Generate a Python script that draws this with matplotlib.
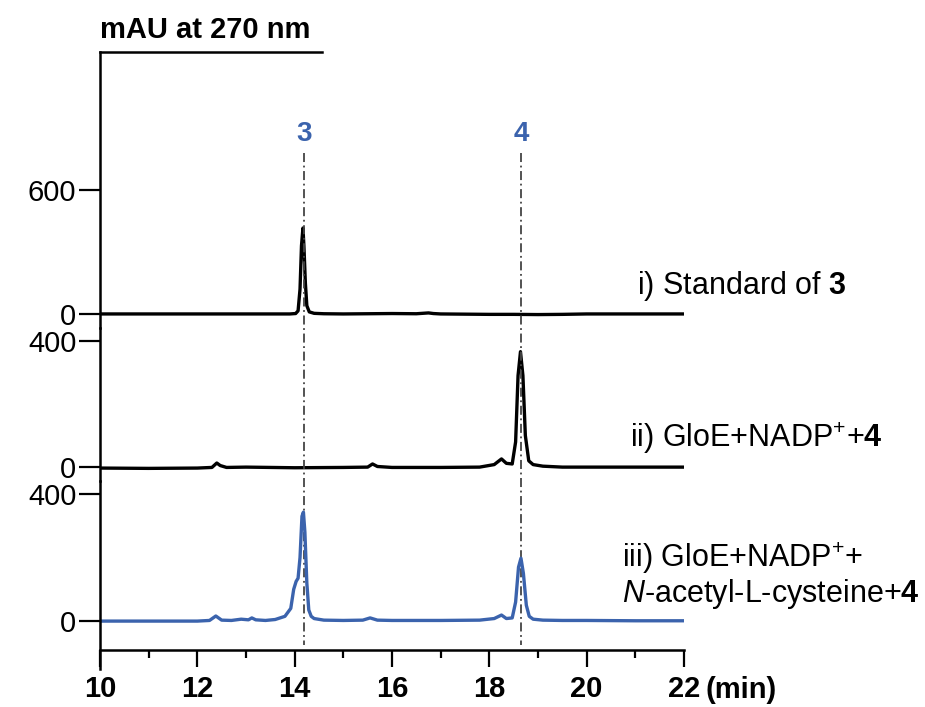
import matplotlib
matplotlib.use("Agg")
import matplotlib.pyplot as plt
from matplotlib.transforms import blended_transform_factory
from matplotlib.ticker import MultipleLocator

plt.rcParams['font.family'] = ['Liberation Sans', 'DejaVu Sans']
plt.rcParams['mathtext.fontset'] = 'custom'
plt.rcParams['mathtext.rm'] = 'Liberation Sans'
plt.rcParams['mathtext.bf'] = 'Liberation Sans:bold'
plt.rcParams['mathtext.it'] = 'Liberation Sans:italic'

# chromatogram traces (time in min, signal in mAU)
t_std = [10.0, 11.0, 12.0, 13.0, 13.9, 14.02, 14.07, 14.11, 14.14, 14.17, 14.19, 14.22,
         14.25, 14.3, 14.4, 14.6, 15.0, 15.5, 16.0, 16.5, 16.75, 16.85, 17.0, 17.5,
         18.0, 18.5, 19.0, 19.5, 20.0, 21.0, 22.0]
y_std = [0, 0, 0, 0, 0, 2, 15, 120, 330, 416, 330, 150,
         40, 10, 3, 1, 0, 1, 2, 1, 5, 2, 0, -1,
         -2, -2, -3, -2, 0, 0, 0]

t_gloe = [10, 11, 12, 12.3, 12.4, 12.47, 12.6, 13, 14, 15, 15.5, 15.6, 15.7, 16, 17,
          17.8, 18.1, 18.25, 18.35, 18.47, 18.54, 18.59, 18.64, 18.69, 18.74, 18.81,
          18.9, 19.1, 19.5, 20, 21, 22]
y_gloe = [-3, -4, -3, -1, 13, 5, -1, 0, -2, -1, 0, 10, 2, -1, -1,
          0, 8, 26, 12, 10, 80, 290, 366, 290, 100, 20,
          8, 3, 0, 0, 0, 0]

t_nac = [10, 11, 12, 12.25, 12.38, 12.5, 12.7, 12.9, 13.05, 13.12, 13.2, 13.4, 13.6,
         13.8, 13.92, 13.98, 14.03, 14.07, 14.11, 14.15, 14.18, 14.21, 14.25, 14.29,
         14.34, 14.4, 14.6, 15.0, 15.4, 15.55, 15.7, 16, 17, 17.8, 18.1, 18.25, 18.35,
         18.47, 18.54, 18.6, 18.65, 18.7, 18.76, 18.82, 18.9, 19.1, 19.5, 20, 21, 22]
y_nac = [0, 0, 0, 2, 16, 3, 2, 6, 4, 10, 4, 2, 5,
         15, 40, 100, 125, 135, 200, 330, 343, 280, 120, 35,
         15, 8, 3, 2, 3, 10, 3, 2, 2, 3, 8, 19, 8,
         10, 60, 170, 198, 150, 50, 15, 6, 3, 2, 2, 1, 1]

peak_times = [14.19, 18.65]
peak_names = ['3', '4']

BLUE = '#3b63ad'
fig = plt.figure(figsize=(9.25, 7.07), dpi=100)

W, H = 925, 707
def box(top, bottom):
    return [100 / W, 1 - bottom / H, 584 / W, (bottom - top) / H]

ax1 = fig.add_axes(box(52, 328))
ax2 = fig.add_axes(box(328, 481))
ax3 = fig.add_axes(box(481, 650))

panels = [(ax1, t_std, y_std, 'black', (-68, 1268), [0, 600]),
          (ax2, t_gloe, y_gloe, 'black', (-44, 441), [0, 400]),
          (ax3, t_nac, y_nac, BLUE, (-91, 441), [0, 400])]

for ax, t, y, c, lim, ticks in panels:
    ax.plot(t, y, color=c, lw=2.4, solid_joinstyle='round')
    ax.set_xlim(10, 22)
    ax.set_ylim(*lim)
    ax.set_yticks(ticks)
    ax.tick_params(axis='y', length=15, width=1.6, labelsize=21, pad=2)
    for s in ['top', 'right', 'bottom']:
        ax.spines[s].set_visible(False)
    ax.spines['left'].set_linewidth(1.8)
    ax.patch.set_alpha(0)

for ax in (ax1, ax2):
    ax.set_xticks([])

ax1.spines['top'].set_visible(True)
ax1.spines['top'].set_linewidth(1.8)
ax1.spines['top'].set_bounds(10, 14.56)

ax3.spines['bottom'].set_visible(True)
ax3.spines['bottom'].set_linewidth(1.8)
ax3.spines['left'].set_bounds(-151, 441)
ax3.xaxis.set_major_locator(MultipleLocator(2))
ax3.xaxis.set_minor_locator(MultipleLocator(1))
ax3.tick_params(axis='x', which='major', length=12, width=1.6, labelsize=21, pad=6)
ax3.tick_params(axis='x', which='minor', length=6, width=1.6)
for lab in ax3.get_xticklabels():
    lab.set_fontweight('bold')
ax3.text(22.45, -0.235, '(min)', transform=blended_transform_factory(ax3.transData, ax3.transAxes),
         fontsize=21, fontweight='bold', ha='left', va='center')

# dash-dot markers for compounds 3 and 4
tr = blended_transform_factory(ax3.transData, fig.transFigure)
for x, name in zip(peak_times, peak_names):
    ax3.plot([x, x], [1 - 153 / H, 1 - 645 / H], transform=tr, clip_on=False,
             color='#444444', lw=1.3, ls=(0, (5, 2, 1, 2)), zorder=0)
    ax3.text(x, 1 - 134 / H, name, transform=tr, color=BLUE, fontsize=20,
             fontweight='bold', ha='center', va='center')

fig.text(100 / W, 1 - 30 / H, 'mAU at 270 nm', fontsize=21, fontweight='bold',
         ha='left', va='center')

fig.text(637 / W, 1 - 286 / H, 'i) Standard of $\\mathbf{3}$', fontsize=22,
         ha='left', va='center')
fig.text(630 / W, 1 - 438 / H, 'ii) GloE+NADP$^{+}$+$\\mathbf{4}$', fontsize=22,
         ha='left', va='center')
fig.text(622 / W, 1 - 558 / H, 'iii) GloE+NADP$^{+}$+', fontsize=22,
         ha='left', va='center')
fig.text(622 / W, 1 - 594 / H, '$\\mathit{N}$-acetyl-L-cysteine+$\\mathbf{4}$', fontsize=22,
         ha='left', va='center')

fig.savefig('out.png', dpi=100)
